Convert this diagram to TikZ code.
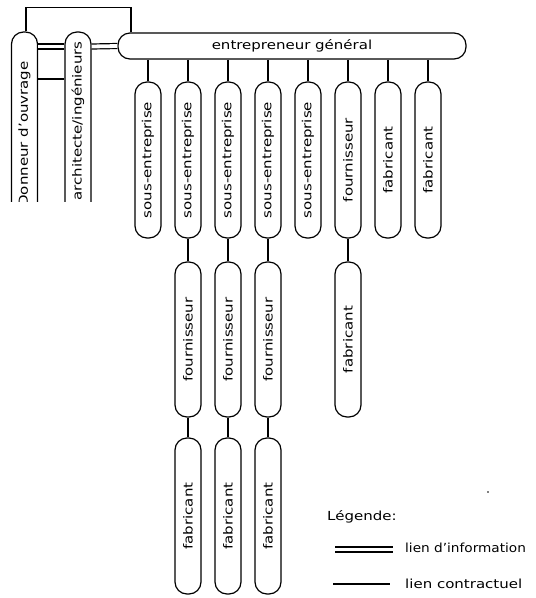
\documentclass[tikz,border=0pt]{standalone}
\usepackage{fontspec}
\setmainfont{DejaVu Sans}[FakeStretch=1.2]
\begin{document}
\begin{tikzpicture}[x=1pt,y=-1pt,
  every node/.style={font=\fontsize{12.5}{14}\selectfont, inner sep=0pt},
  pill/.style={draw, line width=1.2pt, rounded corners=12pt, minimum width=26pt, fill=white},
  hpill/.style={draw, line width=1.2pt, rounded corners=12pt, minimum height=26pt, fill=white},
  contract/.style={line width=1.2pt},
  info/.style={line width=1.2pt, double, double distance=3.8pt}]
\useasboundingbox (0,0) rectangle (536,598);
% top level (the two left boxes run past the edge of the drawing)
\begin{scope}
\clip (0,0) rectangle (536,201);
\node[pill, minimum height=200pt] (don) at (24.5,132) {};
\node[pill, minimum height=200pt] (arc) at (78,132) {};
\node (dont) at (24.5,134) {\rotatebox{90}{Donneur d'ouvrage}};
\node (arct) at (78,121) {\rotatebox{90}{architecte/ingénieurs}};
\end{scope}
\node[hpill, minimum width=348pt] (ent) at (292,46) {entrepreneur général};
% level 1
\foreach \n/\x/\t in {s1/148/sous-entreprise, s2/188/sous-entreprise, s3/228/sous-entreprise,
  s4/268/sous-entreprise, s5/308/sous-entreprise, f6/348/fournisseur, b7/388/fabricant, b8/428/fabricant}
  {\node[pill, minimum height=156pt] (\n) at (\x,160) {\rotatebox{90}{\t}};
   \draw[contract] (ent.south -| \n.north) -- (\n.north);}
% level 2
\foreach \n/\p/\x/\t in {g2/s2/188/fournisseur, g3/s3/228/fournisseur, g4/s4/268/fournisseur, g6/f6/348/fabricant}
  {\node[pill, minimum height=155pt] (\n) at (\x,339.5) {\rotatebox{90}{\t}};
   \draw[contract] (\p.south) -- (\n.north);}
% level 3
\foreach \n/\p/\x in {h2/g2/188, h3/g3/228, h4/g4/268}
  {\node[pill, minimum height=156pt] (\n) at (\x,516) {\rotatebox{90}{fabricant}};
   \draw[contract] (\p.south) -- (\n.north);}
% links on the left
\draw[contract] (don.north) ++(1.5,0) coordinate (d1) -- ++(0,-24) coordinate (d2) -- (d2 -| 131,0) coordinate (d3) -- (d3 |- ent.north);
\draw[info] (don.east |- 0,46.5) -- (arc.west |- 0,46.5);
\draw[info] (arc.east |- 0,46.5) -- (ent.west);
\draw[contract] (don.east |- 0,79) -- (arc.west |- 0,79);
% legend
\node[anchor=west] (leg) at (327,517) {Légende:};
\coordinate (i1) at (335,549.5); \coordinate (i2) at (393,549.5);
\draw[info] (i1) -- (i2);
\node[anchor=west] (li) at (405,548) {\scalebox{0.91}[1]{lien d'information}};
\coordinate (c1) at (333,584); \coordinate (c2) at (390,584);
\draw[contract] (c1) -- (c2);
\node[anchor=west] (lc) at (405,584) {lien contractuel};
\fill (488,492) circle (0.8pt);
\end{tikzpicture}
\end{document}
